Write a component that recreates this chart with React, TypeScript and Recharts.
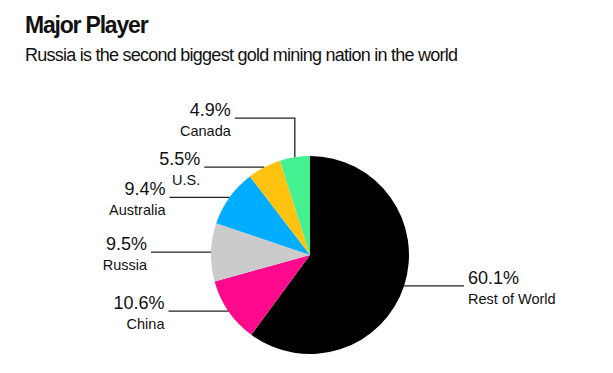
import React from "react";
import { PieChart, Pie, Cell } from "recharts";

const categories = ["Rest of World", "China", "Russia", "Australia", "U.S.", "Canada"];
const shares = [60.1, 10.6, 9.5, 9.4, 5.5, 4.9];
const colors = ["#000000", "#ff0a8c", "#cbcbcb", "#00adff", "#ffc20e", "#44f08f"];

const data = categories.map((name, i) => ({ name, value: shares[i] }));

const FONT = '"Liberation Sans", Arial, Helvetica, sans-serif';
const RAD = Math.PI / 180;

const renderLabel = (props: any) => {
  const { cx, cy, midAngle, outerRadius, payload, value } = props;
  const c = Math.cos(-midAngle * RAD);
  const s = Math.sin(-midAngle * RAD);
  const x0 = cx + outerRadius * c;
  const y0 = cy + outerRadius * s;
  const right = c >= 0;
  const nearTop = Math.abs(c) < 0.25 && s < 0;
  const len = 60;
  let points: string;
  let xe: number;
  let ye: number;
  if (nearTop) {
    ye = y0 - 39;
    xe = x0 + (right ? len : -len);
    points = `${x0},${y0} ${x0},${ye} ${xe},${ye}`;
  } else {
    ye = y0;
    xe = x0 + (right ? len : -len);
    points = `${x0},${y0} ${xe},${ye}`;
  }
  const tx = right ? xe + 4 : xe - 4;
  const anchor = right ? "start" : "end";
  return (
    <g key={`lbl-${payload.name}`}>
      <polyline points={points} fill="none" stroke="#222" strokeWidth={1.3} />
      <text x={tx} y={ye - 2} textAnchor={anchor} fontFamily={FONT} fontSize={18} fill="#111">
        {`${Number(value).toFixed(1)}%`}
      </text>
      <text x={tx} y={ye + 18} textAnchor={anchor} fontFamily={FONT} fontSize={14.5} fill="#111">
        {payload.name}
      </text>
    </g>
  );
};

export default function App() {
  return (
    <div style={{ position: "absolute", left: 0, top: 0, width: 613, height: 373, background: "#fff" }}>
      <div
        style={{
          position: "absolute",
          left: 25,
          top: 13.5,
          fontFamily: FONT,
          fontWeight: 700,
          fontSize: 23,
          lineHeight: "23px",
          letterSpacing: -1.2,
          color: "#111",
          whiteSpace: "nowrap",
        }}
      >
        Major Player
      </div>
      <div
        style={{
          position: "absolute",
          left: 25,
          top: 45.5,
          fontFamily: FONT,
          fontSize: 18,
          lineHeight: "18px",
          letterSpacing: -0.75,
          color: "#111",
          whiteSpace: "nowrap",
        }}
      >
        Russia is the second biggest gold mining nation in the world
      </div>
      <div style={{ position: "absolute", left: 0, top: 0 }}>
        <PieChart width={613} height={373} margin={{ top: 0, right: 0, bottom: 0, left: 0 }}>
          <Pie
            data={data}
            dataKey="value"
            nameKey="name"
            cx={310}
            cy={255}
            innerRadius={0}
            outerRadius={99}
            startAngle={90}
            endAngle={-270}
            stroke="none"
            label={renderLabel}
            labelLine={false}
            isAnimationActive={false}
          >
            {data.map((d, i) => (
              <Cell key={d.name} fill={colors[i]} />
            ))}
          </Pie>
        </PieChart>
      </div>
    </div>
  );
}
